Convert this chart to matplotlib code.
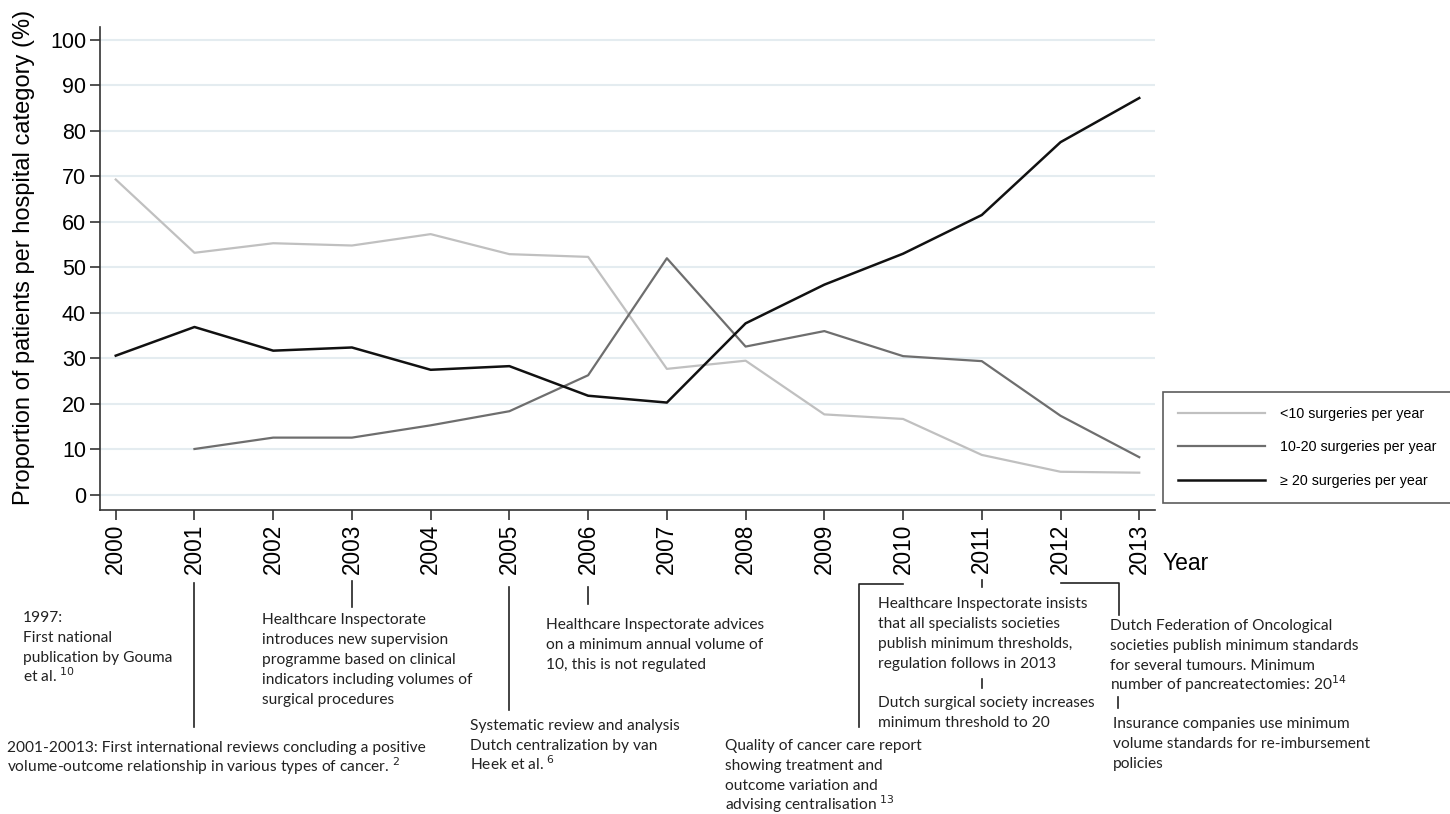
import matplotlib
matplotlib.use("Agg")
import matplotlib.pyplot as plt
import matplotlib.transforms as mtransforms
import numpy as np

years = [2000, 2001, 2002, 2003, 2004, 2005, 2006, 2007, 2008, 2009, 2010, 2011, 2012, 2013]
lt10 = [69.3, 53.2, 55.3, 54.8, 57.3, 52.9, 52.3, 27.7, 29.5, 17.7, 16.7, 8.8, 5.1, 4.9]
mid_years = years[1:]
b10_20 = [10.1, 12.6, 12.6, 15.3, 18.4, 26.3, 52.0, 32.6, 36.0, 30.5, 29.4, 17.4, 8.3]
ge20 = [30.6, 36.9, 31.7, 32.4, 27.5, 28.3, 21.8, 20.3, 37.7, 46.2, 53.0, 61.5, 77.5, 87.2]
labels = ["<10 surgeries per year", "10-20 surgeries per year", "\u2265 20 surgeries per year"]

W, H = 1450, 814
fig = plt.figure(figsize=(14.5, 8.14), dpi=100)
ax = fig.add_axes([100 / W, 1 - 510 / H, 1055 / W, 483 / H])

ax.plot(years, lt10, color="#c0c0c0", lw=1.6)
ax.plot(mid_years, b10_20, color="#6e6e6e", lw=1.6)
ax.plot(years, ge20, color="#111111", lw=1.8)

ax.set_ylim(-3.3, 102.8)
ax.set_xlim(1999.8, 2013.2)
ax.set_yticks(np.arange(0, 101, 10))
ax.set_xticks(years)
ax.set_xticklabels([str(y) for y in years], rotation=90, fontsize=16.3, family="Liberation Sans")
ax.set_yticklabels([str(v) for v in range(0, 101, 10)], fontsize=15.5, family="Liberation Sans")
ax.tick_params(axis="both", length=7, width=1.2, color="#333333", pad=3)
ax.yaxis.grid(True, color="#e4ecf0", lw=1.5)
ax.set_axisbelow(True)
for s in ["top", "right"]:
    ax.spines[s].set_visible(False)
for s in ["left", "bottom"]:
    ax.spines[s].set_color("#333333")
    ax.spines[s].set_linewidth(1.2)
ax.set_ylabel("Proportion of patients per hospital category (%)", fontsize=17,
              family="Liberation Sans")
ax.yaxis.set_label_coords(-0.062, 0.522)
fig.text(1163 / W, 1 - 563 / H, "Year", fontsize=16.5, family="Liberation Sans", va="center")

# legend
leg = ax.legend(labels, loc="upper left", bbox_to_anchor=(1163 / W, 1 - 392 / H),
                bbox_transform=fig.transFigure, frameon=True, fancybox=False,
                edgecolor="#333333", fontsize=10.3, handlelength=6.1, handletextpad=1.0,
                labelspacing=1.35, borderpad=1.05, borderaxespad=0)
leg.get_frame().set_linewidth(1.2)
for t in leg.get_texts():
    t.set_family("Liberation Sans")

# timeline connectors (x in years, y in figure fraction)
tr = mtransforms.blended_transform_factory(ax.transData, fig.transFigure)
def seg(xs, ys):
    ax.plot(xs, [1 - y / H for y in ys], color="#222222", lw=1.2, transform=tr, clip_on=False)

seg([2001, 2001], [583, 727])
seg([2003, 2003], [581, 607])
seg([2005, 2005], [587, 710])
seg([2006, 2006], [587, 604])
seg([2010, 2009.44, 2009.44], [584, 584, 727])
seg([2011, 2011], [580, 587])
seg([2011, 2011], [679, 688])
seg([2012, 2012.74, 2012.74], [583, 583, 615])
seg([2012.73, 2012.73], [697, 708])

fam = ["Lato", "DejaVu Sans"]
notes = [
    (23, 610, "1997:\nFirst national\npublication by Gouma\net al. $^{10}$"),
    (7, 740, "2001-20013: First international reviews concluding a positive\nvolume-outcome relationship in various types of cancer. $^{2}$"),
    (262, 612, "Healthcare Inspectorate\nintroduces new supervision\nprogramme based on clinical\nindicators including volumes of\nsurgical procedures"),
    (470, 718, "Systematic review and analysis\nDutch centralization by van\nHeek et al. $^{6}$"),
    (546, 617, "Healthcare Inspectorate advices\non a minimum annual volume of\n10, this is not regulated"),
    (725, 738, "Quality of cancer care report\nshowing treatment and\noutcome variation and\nadvising centralisation $^{13}$"),
    (878, 596, "Healthcare Inspectorate insists\nthat all specialists societies\npublish minimum thresholds,\nregulation follows in 2013"),
    (878, 695, "Dutch surgical society increases\nminimum threshold to 20"),
    (1110, 618, "Dutch Federation of Oncological\nsocieties publish minimum standards\nfor several tumours. Minimum\nnumber of pancreatectomies: 20$^{14}$"),
    (1113, 716, "Insurance companies use minimum\nvolume standards for re-imbursement\npolicies"),
]
for px, py, txt in notes:
    for k, line in enumerate(txt.split("\n")):
        fig.text(px / W, 1 - (py + 12 + 20 * k) / H, line, fontsize=11.2, family=fam,
                 color="#222222", va="baseline", ha="left")

fig.savefig("out.png", dpi=100)
